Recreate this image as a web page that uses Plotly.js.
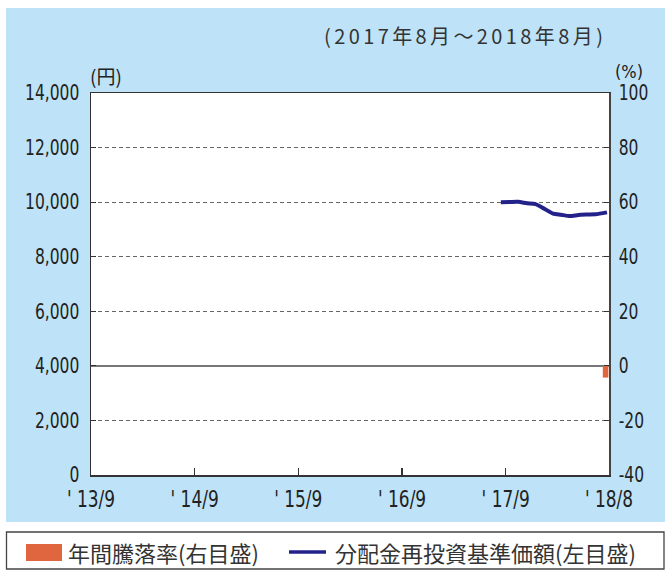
<!DOCTYPE html>
<html>
<head>
<meta charset="utf-8">
<script src="https://cdn.plot.ly/plotly-3.0.1.min.js"></script>
<style>
html,body{margin:0;padding:0;background:#fff;}
#chart{width:665px;height:570px;}
</style>
</head>
<body>
<div id="chart"></div>
<script>
// ---- data ----
var navDates = ['2017-08-15','2017-09-15','2017-10-15','2017-11-15','2017-12-15','2018-01-15','2018-02-15','2018-03-15','2018-04-15','2018-05-15','2018-06-15','2018-07-15','2018-08-24'];
var navValues = [10000, 10005, 10010, 9960, 9930, 9760, 9580, 9540, 9490, 9530, 9545, 9555, 9625];
var returnDates = ['2018-08-19'];
var returnValues = [-4.3];
var xTickVals = ['2013-09-01','2014-09-01','2015-09-01','2016-09-01','2017-09-01','2018-08-31'];
var xTickText = ["' 13/9","' 14/9","' 15/9","' 16/9","' 17/9","' 18/8"];
var y2TickVals = [-40, -20, 0, 20, 40, 60, 80, 100];
var y2TickText = ['-40', '-20', '0', '20', '40', '60', '80', '100'];
var legendReturn = '年間騰落率(右目盛)';
var legendNav = '分配金再投資基準価額(左目盛)';
var periodText = '(2017年8月～2018年8月)';

// ---- layout helpers (pixel -> paper) ----
var L = 91, R = 609, T = 93, B = 475;
function px(x){ return (x - L) / (R - L); }
function py(y){ return (B - y) / (B - T); }

var tickFont = {family: '"DejaVu Sans Condensed", "Liberation Sans Narrow", sans-serif', size: 21, color: '#222'};
var xTickFont = {family: '"DejaVu Sans Condensed", "Liberation Sans Narrow", sans-serif', size: 23, color: '#222'};
var jpFont = {family: '"Noto Sans CJK JP", sans-serif', size: 22, color: '#333'};

var traces = [
  {
    type: 'bar', x: returnDates, y: returnValues, yaxis: 'y2',
    width: 1.7e9, marker: {color: '#e0663f', line: {width: 0}},
    showlegend: false, hoverinfo: 'skip'
  },
  {
    type: 'scatter', mode: 'lines', x: navDates, y: navValues,
    line: {color: '#22228a', width: 4, shape: 'spline', smoothing: 0.6},
    showlegend: false, hoverinfo: 'skip'
  }
];

var layout = {
  width: 665, height: 570,
  margin: {l: L, r: 665 - R, t: T, b: 570 - B, pad: 0},
  paper_bgcolor: '#ffffff',
  plot_bgcolor: 'rgba(0,0,0,0)',
  showlegend: false,
  xaxis: {
    type: 'date', range: ['2013-09-01', '2018-08-31'],
    tickmode: 'array', tickvals: xTickVals, ticktext: xTickText,
    ticks: 'inside', ticklen: 7, tickwidth: 1.2, tickcolor: '#333',
    showgrid: false, zeroline: false,
    showline: true, linecolor: '#333', linewidth: 1.5, mirror: true,
    tickfont: xTickFont, ticklabelstandoff: 3, fixedrange: true
  },
  yaxis: {
    range: [0, 14000], dtick: 2000, tickformat: ',d',
    ticks: 'inside', ticklen: 5, tickcolor: '#333',
    showgrid: true, gridcolor: '#666', gridwidth: 1, griddash: '4px,3px',
    zeroline: false, showline: true, linecolor: '#333', linewidth: 1.5,
    tickfont: tickFont, ticklabelstandoff: 6, fixedrange: true
  },
  yaxis2: {
    overlaying: 'y', side: 'right', range: [-40, 100],
    tickmode: 'array', tickvals: y2TickVals, ticktext: y2TickText,
    ticks: 'inside', ticklen: 5, tickcolor: '#333',
    showgrid: false, zeroline: true, zerolinecolor: '#777', zerolinewidth: 1.5,
    showline: true, linecolor: '#444', linewidth: 1.5,
    tickfont: tickFont, ticklabelstandoff: 4, fixedrange: true
  },
  shapes: [
    {type: 'rect', xref: 'paper', yref: 'paper', layer: 'below',
     x0: px(6), x1: px(666), y0: py(522), y1: py(8),
     fillcolor: '#bee3f8', line: {width: 0}},
    {type: 'rect', xref: 'paper', yref: 'paper', layer: 'below',
     x0: 0, x1: 1, y0: 0, y1: 1, fillcolor: '#ffffff', line: {width: 0}},
    {type: 'rect', xref: 'paper', yref: 'paper', layer: 'above',
     x0: px(6.5), x1: px(664), y0: py(569), y1: py(532),
     fillcolor: 'rgba(0,0,0,0)', line: {color: '#444', width: 1.3}},
    {type: 'rect', xref: 'paper', yref: 'paper', layer: 'above',
     x0: px(26), x1: px(62), y0: py(561), y1: py(544),
     fillcolor: '#e0663f', line: {width: 0}},
    {type: 'line', xref: 'paper', yref: 'paper', layer: 'above',
     x0: px(289), x1: px(326), y0: py(552), y1: py(552),
     line: {color: '#22228a', width: 3.5}}
  ],
  annotations: [
    {xref: 'paper', yref: 'paper', x: px(608), y: py(36), xanchor: 'right', yanchor: 'middle',
     text: '<span style="letter-spacing:3.4px">' + periodText + '</span>', showarrow: false,
     font: {family: '"Noto Sans CJK JP", sans-serif', size: 20, color: '#333'}},
    {xref: 'paper', yref: 'paper', x: px(88), y: py(75), xanchor: 'left', yanchor: 'middle',
     text: '(円)', showarrow: false,
     font: {family: '"Noto Sans CJK JP", sans-serif', size: 19, color: '#222'}},
    {xref: 'paper', yref: 'paper', x: px(613), y: py(71), xanchor: 'left', yanchor: 'middle',
     text: '(%)', showarrow: false,
     font: {family: '"DejaVu Sans Condensed", sans-serif', size: 18, color: '#222'}},
    {xref: 'paper', yref: 'paper', x: px(66), y: py(552), xanchor: 'left', yanchor: 'middle',
     text: legendReturn, showarrow: false, font: jpFont},
    {xref: 'paper', yref: 'paper', x: px(333), y: py(552), xanchor: 'left', yanchor: 'middle',
     text: legendNav, showarrow: false, font: jpFont}
  ]
};

Plotly.newPlot('chart', traces, layout, {staticPlot: true, displayModeBar: false}).then(function(gd){
  // condense tick label glyphs horizontally to mimic the narrow typeface of the original
  var nodes = gd.querySelectorAll('.xtick text, .ytick text, .y2tick text');
  nodes.forEach(function(t){
    var w = t.getComputedTextLength();
    if (w > 0) {
      t.setAttribute('textLength', (w * 0.82).toFixed(2));
      t.setAttribute('lengthAdjust', 'spacingAndGlyphs');
    }
  });
});
</script>
</body>
</html>
